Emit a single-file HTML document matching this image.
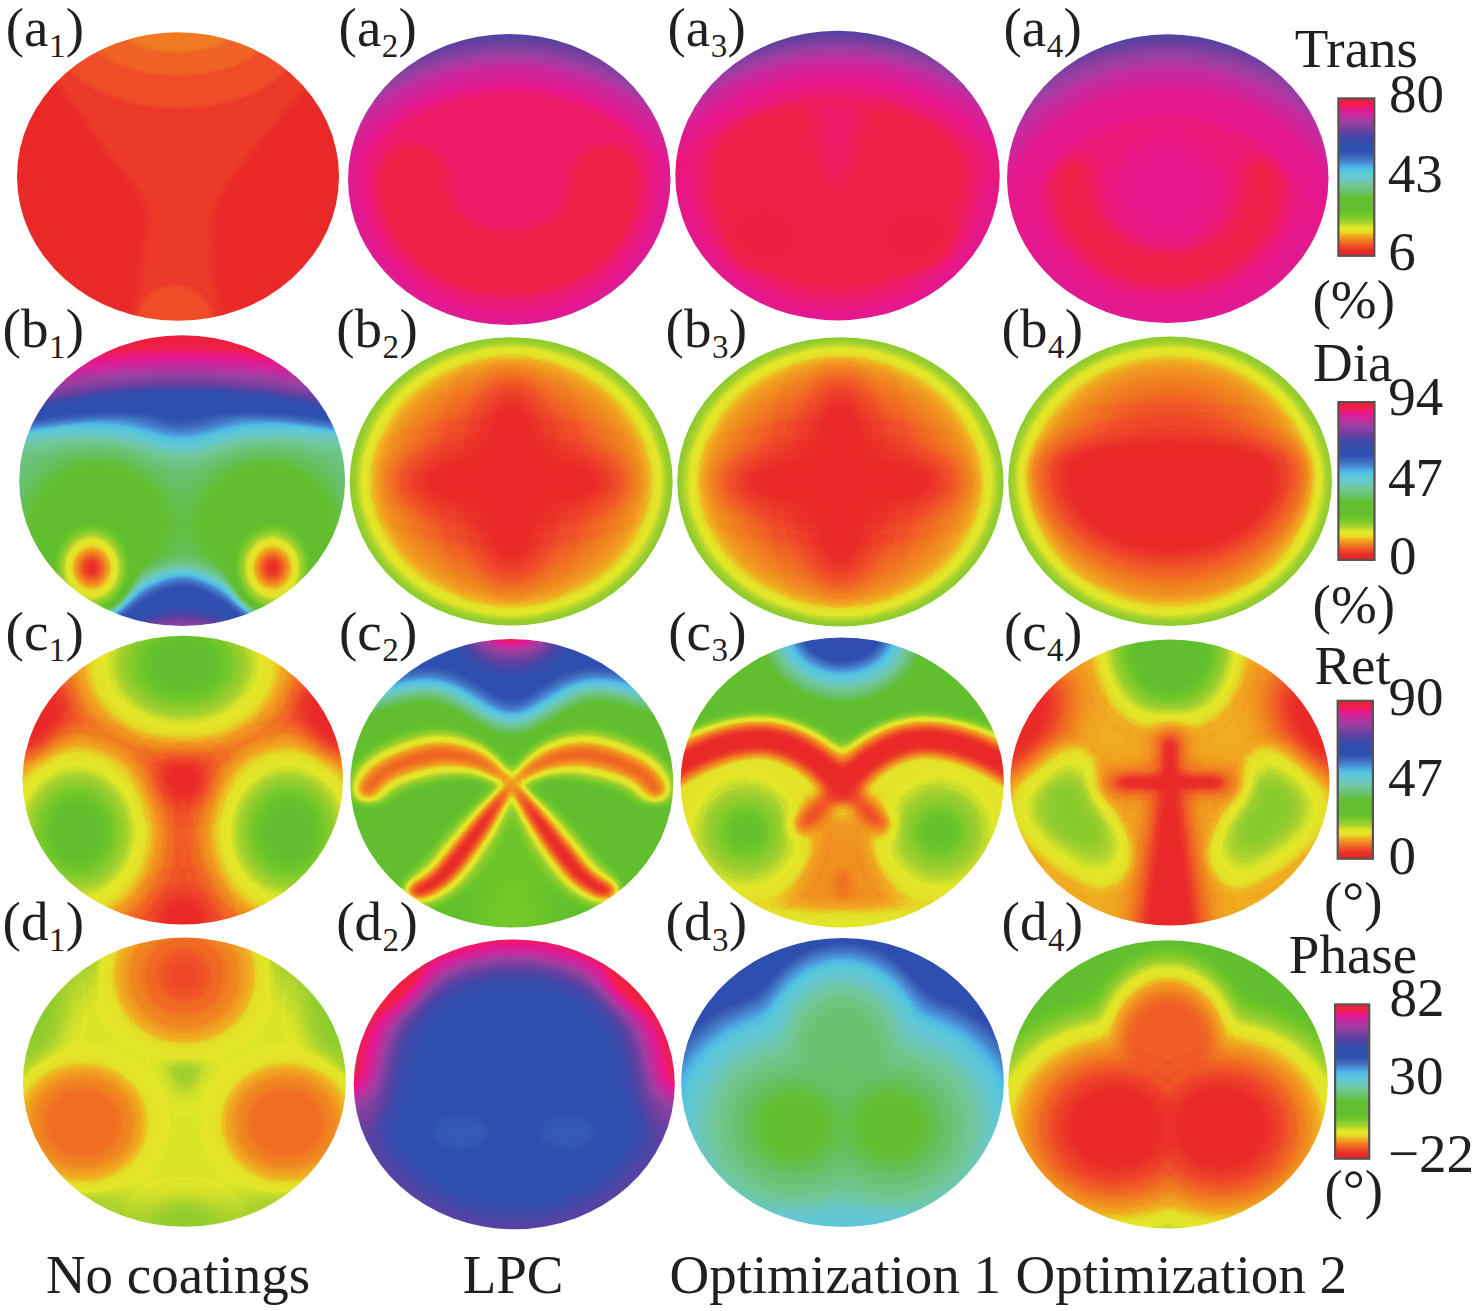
<!DOCTYPE html><html><head><meta charset="utf-8"><style>html,body{margin:0;padding:0;background:#fff;overflow:hidden}svg{display:block}text{font-family:"Liberation Serif",serif;fill:#231f20}</style></head><body>
<svg width="1476" height="1311" viewBox="0 0 1476 1311">
<defs>
<clipPath id="uc"><circle cx="0" cy="0" r="1"/></clipPath>
<filter id="cmap" filterUnits="userSpaceOnUse" x="-1.2" y="-1.2" width="2.4" height="2.4" color-interpolation-filters="sRGB"><feComponentTransfer><feFuncR type="table" tableValues="0.9098 0.9098 0.9120 0.9158 0.9216 0.9294 0.9373 0.9412 0.9412 0.9412 0.9412 0.9412 0.9412 0.9412 0.9189 0.8941 0.8941 0.8941 0.8941 0.8179 0.7417 0.6655 0.6056 0.5618 0.5180 0.4742 0.4353 0.4157 0.3961 0.3843 0.3843 0.3843 0.3843 0.3843 0.3843 0.3843 0.3843 0.3843 0.3922 0.4000 0.4078 0.4138 0.4197 0.4256 0.4315 0.4374 0.4345 0.4279 0.4212 0.4145 0.4078 0.3899 0.3720 0.3541 0.3388 0.3263 0.3137 0.3050 0.2963 0.2866 0.2747 0.2629 0.2510 0.2353 0.2196 0.2039 0.1882 0.1882 0.1882 0.1882 0.1882 0.2013 0.2144 0.2275 0.2405 0.2578 0.2922 0.3265 0.3608 0.3951 0.4304 0.4674 0.5043 0.5412 0.5781 0.6152 0.6527 0.6903 0.7278 0.7654 0.7998 0.8322 0.8645 0.8969 0.9170 0.9291 0.9412 0.9392 0.9373 0.9353 0.9333"/><feFuncG type="table" tableValues="0.1490 0.1546 0.1613 0.1688 0.1961 0.2431 0.2902 0.3422 0.3993 0.4563 0.5134 0.5704 0.6275 0.6845 0.7794 0.8784 0.8889 0.8993 0.9098 0.8829 0.8560 0.8291 0.8120 0.8047 0.7974 0.7902 0.7821 0.7709 0.7597 0.7529 0.7529 0.7529 0.7529 0.7529 0.7529 0.7529 0.7529 0.7529 0.7529 0.7529 0.7529 0.7589 0.7648 0.7707 0.7766 0.7825 0.7843 0.7843 0.7843 0.7843 0.7843 0.7843 0.7843 0.7843 0.7718 0.7467 0.7216 0.6635 0.6054 0.5533 0.5153 0.4772 0.4392 0.4078 0.3765 0.3451 0.3137 0.3137 0.3137 0.3137 0.3137 0.3072 0.3007 0.2941 0.2876 0.2810 0.2745 0.2680 0.2614 0.2549 0.2510 0.2510 0.2510 0.2510 0.2510 0.2455 0.2271 0.2088 0.1904 0.1720 0.1529 0.1333 0.1137 0.0941 0.0935 0.1056 0.1176 0.1186 0.1196 0.1206 0.1216"/><feFuncB type="table" tableValues="0.1569 0.1569 0.1569 0.1569 0.1569 0.1569 0.1569 0.1521 0.1426 0.1331 0.1255 0.1255 0.1255 0.1255 0.1404 0.1569 0.1569 0.1569 0.1569 0.1658 0.1748 0.1838 0.1846 0.1773 0.1700 0.1627 0.1591 0.1703 0.1815 0.1882 0.1882 0.1882 0.1882 0.1882 0.1882 0.1882 0.1882 0.1882 0.2510 0.3137 0.3765 0.4179 0.4593 0.5008 0.5422 0.5836 0.6288 0.6755 0.7222 0.7690 0.8157 0.8246 0.8336 0.8426 0.8596 0.8847 0.9098 0.8866 0.8633 0.8385 0.8100 0.7815 0.7529 0.7373 0.7216 0.7059 0.6902 0.6902 0.6902 0.6902 0.6902 0.6837 0.6771 0.6706 0.6641 0.6575 0.6510 0.6444 0.6379 0.6314 0.6281 0.6296 0.6311 0.6327 0.6342 0.6345 0.6320 0.6295 0.6270 0.6245 0.6124 0.5937 0.5751 0.5565 0.4875 0.3849 0.2824 0.2706 0.2588 0.2471 0.2353"/></feComponentTransfer></filter>
<filter id="bl_d2" filterUnits="userSpaceOnUse" x="-2" y="-2" width="4" height="4" color-interpolation-filters="sRGB"><feGaussianBlur stdDeviation="0.08"/></filter>
<filter id="bl0" filterUnits="userSpaceOnUse" x="-2" y="-2" width="4" height="4" color-interpolation-filters="sRGB"><feGaussianBlur stdDeviation="0.025"/></filter>
<filter id="bl1" filterUnits="userSpaceOnUse" x="-2" y="-2" width="4" height="4" color-interpolation-filters="sRGB"><feGaussianBlur stdDeviation="0.012"/></filter>
<filter id="bl2" filterUnits="userSpaceOnUse" x="-2" y="-2" width="4" height="4" color-interpolation-filters="sRGB"><feGaussianBlur stdDeviation="0.060"/></filter>
<filter id="bl3" filterUnits="userSpaceOnUse" x="-2" y="-2" width="4" height="4" color-interpolation-filters="sRGB"><feGaussianBlur stdDeviation="0.050"/></filter>
<filter id="bl4" filterUnits="userSpaceOnUse" x="-2" y="-2" width="4" height="4" color-interpolation-filters="sRGB"><feGaussianBlur stdDeviation="0.040"/></filter>
<filter id="bl5" filterUnits="userSpaceOnUse" x="-2" y="-2" width="4" height="4" color-interpolation-filters="sRGB"><feGaussianBlur stdDeviation="0.140"/></filter>
<filter id="bl6" filterUnits="userSpaceOnUse" x="-2" y="-2" width="4" height="4" color-interpolation-filters="sRGB"><feGaussianBlur stdDeviation="0.110"/></filter>
<filter id="bl7" filterUnits="userSpaceOnUse" x="-2" y="-2" width="4" height="4" color-interpolation-filters="sRGB"><feGaussianBlur stdDeviation="0.070"/></filter>
<filter id="bl8" filterUnits="userSpaceOnUse" x="-2" y="-2" width="4" height="4" color-interpolation-filters="sRGB"><feGaussianBlur stdDeviation="0.035"/></filter>
<filter id="bl9" filterUnits="userSpaceOnUse" x="-2" y="-2" width="4" height="4" color-interpolation-filters="sRGB"><feGaussianBlur stdDeviation="0.030"/></filter>
<filter id="bl10" filterUnits="userSpaceOnUse" x="-2" y="-2" width="4" height="4" color-interpolation-filters="sRGB"><feGaussianBlur stdDeviation="0.100"/></filter>
<filter id="bl11" filterUnits="userSpaceOnUse" x="-2" y="-2" width="4" height="4" color-interpolation-filters="sRGB"><feGaussianBlur stdDeviation="0.059"/></filter>
<filter id="bl12" filterUnits="userSpaceOnUse" x="-2" y="-2" width="4" height="4" color-interpolation-filters="sRGB"><feGaussianBlur stdDeviation="0.052"/></filter>
<filter id="bl13" filterUnits="userSpaceOnUse" x="-2" y="-2" width="4" height="4" color-interpolation-filters="sRGB"><feGaussianBlur stdDeviation="0.090"/></filter>
<filter id="bl14" filterUnits="userSpaceOnUse" x="-2" y="-2" width="4" height="4" color-interpolation-filters="sRGB"><feGaussianBlur stdDeviation="0.080"/></filter>
<filter id="bl15" filterUnits="userSpaceOnUse" x="-2" y="-2" width="4" height="4" color-interpolation-filters="sRGB"><feGaussianBlur stdDeviation="0.020"/></filter>
<filter id="bl16" filterUnits="userSpaceOnUse" x="-2" y="-2" width="4" height="4" color-interpolation-filters="sRGB"><feGaussianBlur stdDeviation="0.036"/></filter>
<filter id="bl17" filterUnits="userSpaceOnUse" x="-2" y="-2" width="4" height="4" color-interpolation-filters="sRGB"><feGaussianBlur stdDeviation="0.042"/></filter>
<filter id="bl18" filterUnits="userSpaceOnUse" x="-2" y="-2" width="4" height="4" color-interpolation-filters="sRGB"><feGaussianBlur stdDeviation="0.053"/></filter>
<filter id="bl19" filterUnits="userSpaceOnUse" x="-2" y="-2" width="4" height="4" color-interpolation-filters="sRGB"><feGaussianBlur stdDeviation="0.045"/></filter>
<radialGradient id="a2r" gradientUnits="userSpaceOnUse" cx="0" cy="0" r="1" fx="0" fy="0"><stop offset="0" stop-color="#f2f2f2"/><stop offset="0.75" stop-color="#f2f2f2"/><stop offset="0.88" stop-color="#f0f0f0"/><stop offset="0.95" stop-color="#ededed"/><stop offset="1" stop-color="#ebebeb"/></radialGradient>
<radialGradient id="a2t" gradientUnits="userSpaceOnUse" cx="0" cy="0.55" r="1.56" fx="0" fy="0.55"><stop offset="0" stop-color="#ededed" stop-opacity="0"/><stop offset="0.72" stop-color="#ededed" stop-opacity="0"/><stop offset="0.78" stop-color="#ececec" stop-opacity="1"/><stop offset="0.85" stop-color="#e4e4e4" stop-opacity="1"/><stop offset="0.92" stop-color="#d4d4d4" stop-opacity="1"/><stop offset="1" stop-color="#c2c2c2" stop-opacity="1"/></radialGradient>
<radialGradient id="a3r" gradientUnits="userSpaceOnUse" cx="0" cy="0" r="1" fx="0" fy="0"><stop offset="0" stop-color="#f7f7f7"/><stop offset="0.72" stop-color="#f6f6f6"/><stop offset="0.86" stop-color="#f1f1f1"/><stop offset="0.95" stop-color="#eeeeee"/><stop offset="1" stop-color="#ededed"/></radialGradient>
<radialGradient id="a3t" gradientUnits="userSpaceOnUse" cx="0" cy="0.6" r="1.6" fx="0" fy="0.6"><stop offset="0" stop-color="#f2f2f2" stop-opacity="0"/><stop offset="0.66" stop-color="#f2f2f2" stop-opacity="0"/><stop offset="0.74" stop-color="#f0f0f0" stop-opacity="1"/><stop offset="0.8" stop-color="#ededed" stop-opacity="1"/><stop offset="0.87" stop-color="#e4e4e4" stop-opacity="1"/><stop offset="0.94" stop-color="#d4d4d4" stop-opacity="1"/><stop offset="1" stop-color="#c4c4c4" stop-opacity="1"/></radialGradient>
<radialGradient id="a4r" gradientUnits="userSpaceOnUse" cx="0" cy="0" r="1" fx="0" fy="0"><stop offset="0" stop-color="#f1f1f1"/><stop offset="0.75" stop-color="#f0f0f0"/><stop offset="0.88" stop-color="#eeeeee"/><stop offset="1" stop-color="#ececec"/></radialGradient>
<radialGradient id="a4t" gradientUnits="userSpaceOnUse" cx="0" cy="0.5" r="1.52" fx="0" fy="0.5"><stop offset="0" stop-color="#f0f0f0" stop-opacity="0"/><stop offset="0.55" stop-color="#f0f0f0" stop-opacity="0"/><stop offset="0.63" stop-color="#eeeeee" stop-opacity="1"/><stop offset="0.72" stop-color="#ededed" stop-opacity="1"/><stop offset="0.82" stop-color="#e3e3e3" stop-opacity="1"/><stop offset="0.91" stop-color="#d4d4d4" stop-opacity="1"/><stop offset="1" stop-color="#bfbfbf" stop-opacity="1"/></radialGradient>
<radialGradient id="b1t" gradientUnits="userSpaceOnUse" cx="0" cy="3" r="4.3" fx="0" fy="3"><stop offset="0" stop-color="#b0b0b0" stop-opacity="0"/><stop offset="0.8" stop-color="#b0b0b0" stop-opacity="0"/><stop offset="0.835" stop-color="#b0b0b0" stop-opacity="1"/><stop offset="0.853" stop-color="#cccccc" stop-opacity="1"/><stop offset="0.895" stop-color="#ededed" stop-opacity="1"/><stop offset="0.912" stop-color="#f5f5f5" stop-opacity="1"/><stop offset="0.93" stop-color="#ffffff" stop-opacity="1"/><stop offset="1" stop-color="#ffffff" stop-opacity="1"/></radialGradient>
<radialGradient id="b2r" gradientUnits="userSpaceOnUse" cx="0" cy="0" r="1" fx="0" fy="0"><stop offset="0" stop-color="#050505"/><stop offset="0.2" stop-color="#080808"/><stop offset="0.3" stop-color="#0a0a0a"/><stop offset="0.42" stop-color="#0f0f0f"/><stop offset="0.52" stop-color="#121212"/><stop offset="0.62" stop-color="#161616"/><stop offset="0.72" stop-color="#1a1a1a"/><stop offset="0.8" stop-color="#1e1e1e"/><stop offset="0.86" stop-color="#242424"/><stop offset="0.9" stop-color="#2b2b2b"/><stop offset="0.94" stop-color="#333333"/><stop offset="0.97" stop-color="#383838"/><stop offset="1" stop-color="#3c3c3c"/></radialGradient>
<radialGradient id="b3r" gradientUnits="userSpaceOnUse" cx="0" cy="0" r="1" fx="0" fy="0"><stop offset="0" stop-color="#050505"/><stop offset="0.2" stop-color="#080808"/><stop offset="0.3" stop-color="#0a0a0a"/><stop offset="0.42" stop-color="#0f0f0f"/><stop offset="0.52" stop-color="#121212"/><stop offset="0.62" stop-color="#161616"/><stop offset="0.72" stop-color="#1a1a1a"/><stop offset="0.8" stop-color="#1e1e1e"/><stop offset="0.86" stop-color="#242424"/><stop offset="0.9" stop-color="#2b2b2b"/><stop offset="0.94" stop-color="#333333"/><stop offset="0.97" stop-color="#383838"/><stop offset="1" stop-color="#3c3c3c"/></radialGradient>
<radialGradient id="b4r" gradientUnits="userSpaceOnUse" cx="0" cy="0" r="1" fx="0" fy="0"><stop offset="0" stop-color="#050505"/><stop offset="0.2" stop-color="#080808"/><stop offset="0.3" stop-color="#0a0a0a"/><stop offset="0.42" stop-color="#0f0f0f"/><stop offset="0.52" stop-color="#121212"/><stop offset="0.62" stop-color="#161616"/><stop offset="0.72" stop-color="#1a1a1a"/><stop offset="0.8" stop-color="#1e1e1e"/><stop offset="0.86" stop-color="#242424"/><stop offset="0.9" stop-color="#2b2b2b"/><stop offset="0.94" stop-color="#333333"/><stop offset="0.97" stop-color="#383838"/><stop offset="1" stop-color="#3c3c3c"/></radialGradient>
<radialGradient id="d1r" gradientUnits="userSpaceOnUse" cx="0" cy="0" r="1" fx="0" fy="0"><stop offset="0" stop-color="#2f2f2f"/><stop offset="0.75" stop-color="#2f2f2f"/><stop offset="1" stop-color="#363636"/></radialGradient>
<linearGradient id="cbar" x1="0" y1="0" x2="0" y2="1"><stop offset="0.000" stop-color="#ee1f3c"/><stop offset="0.040" stop-color="#f01e48"/><stop offset="0.066" stop-color="#e8168c"/><stop offset="0.106" stop-color="#c72a9f"/><stop offset="0.153" stop-color="#9a40a2"/><stop offset="0.204" stop-color="#6a40a0"/><stop offset="0.252" stop-color="#4048a8"/><stop offset="0.300" stop-color="#3050b0"/><stop offset="0.340" stop-color="#3050b0"/><stop offset="0.380" stop-color="#4070c0"/><stop offset="0.413" stop-color="#4a90d8"/><stop offset="0.440" stop-color="#50b8e8"/><stop offset="0.465" stop-color="#58c8d8"/><stop offset="0.500" stop-color="#68c8d0"/><stop offset="0.547" stop-color="#70c898"/><stop offset="0.600" stop-color="#68c060"/><stop offset="0.630" stop-color="#62c030"/><stop offset="0.714" stop-color="#62c030"/><stop offset="0.742" stop-color="#70c828"/><stop offset="0.785" stop-color="#a0d030"/><stop offset="0.820" stop-color="#e4e828"/><stop offset="0.850" stop-color="#e4e028"/><stop offset="0.869" stop-color="#f0b020"/><stop offset="0.902" stop-color="#f08020"/><stop offset="0.935" stop-color="#f05028"/><stop offset="0.965" stop-color="#ea2c28"/><stop offset="0.986" stop-color="#e82828"/><stop offset="1.000" stop-color="#e82628"/></linearGradient>
</defs>
<g transform="translate(178.00 176.50) scale(161.000 144.200)"><g clip-path="url(#uc)"><g filter="url(#cmap)"><rect x="-1.3" y="-1.3" width="2.6" height="2.6" fill="#060606"/><path d="M -1.300,-1.300 C -1.062,-1.382 1.055,-1.382 1.300,-1.300 C 1.545,-1.218 0.893,-0.728 0.800,-0.600 C 0.707,-0.472 0.564,-0.293 0.500,-0.200 C 0.436,-0.107 0.281,0.107 0.250,0.200 C 0.218,0.293 0.228,0.472 0.230,0.600 C 0.232,0.728 0.331,1.218 0.270,1.300 C 0.209,1.382 -0.230,1.382 -0.290,1.300 C -0.349,1.218 -0.248,0.728 -0.240,0.600 C -0.232,0.472 -0.193,0.291 -0.220,0.200 C -0.247,0.109 -0.409,-0.087 -0.470,-0.180 C -0.531,-0.273 -0.643,-0.469 -0.740,-0.600 C -0.837,-0.731 -1.538,-1.218 -1.300,-1.300 Z" fill="#0c0c0c" filter="url(#bl0)"/><ellipse cx="0" cy="-1" rx="0.78" ry="0.53" fill="#101010" filter="url(#bl1)"/><ellipse cx="0" cy="-1" rx="0.56" ry="0.3" fill="#141414" filter="url(#bl1)"/><ellipse cx="0" cy="-1" rx="0.33" ry="0.14" fill="#181818" filter="url(#bl1)"/><ellipse cx="-0.02" cy="1.02" rx="0.24" ry="0.27" fill="#101010" filter="url(#bl1)"/></g></g></g>
<g transform="translate(509.25 179.50) scale(161.250 145.500)"><g clip-path="url(#uc)"><g filter="url(#cmap)"><rect x="-1.3" y="-1.3" width="2.6" height="2.6" fill="url(#a2r)"/><path d="M -0.6,-0.02 C -0.62,0.3 -0.4,0.58 0,0.58 C 0.4,0.58 0.62,0.3 0.6,-0.02" fill="none" stroke="#f9f9f9" stroke-width="0.36" stroke-linecap="round" stroke-linejoin="round" filter="url(#bl2)"/><rect x="-1.3" y="-1.3" width="2.6" height="2.6" fill="url(#a2t)"/></g></g></g>
<g transform="translate(837.50 175.60) scale(162.200 144.800)"><g clip-path="url(#uc)"><g filter="url(#cmap)"><rect x="-1.3" y="-1.3" width="2.6" height="2.6" fill="url(#a3r)"/><path d="M -0.2,-0.55 C -0.14,-0.2 -0.1,0.08 0,0.1 C 0.1,0.08 0.14,-0.2 0.2,-0.55 Z" fill="#f2f2f2" filter="url(#bl3)"/><ellipse cx="-0.46" cy="0.42" rx="0.2" ry="0.18" fill="#fcfcfc" transform="rotate(40 -0.46 0.42)" filter="url(#bl2)"/><ellipse cx="0.48" cy="0.42" rx="0.2" ry="0.18" fill="#fcfcfc" transform="rotate(-40 0.48 0.42)" filter="url(#bl2)"/><rect x="-1.3" y="-1.3" width="2.6" height="2.6" fill="url(#a3t)"/></g></g></g>
<g transform="translate(1167.75 178.60) scale(160.750 144.300)"><g clip-path="url(#uc)"><g filter="url(#cmap)"><rect x="-1.3" y="-1.3" width="2.6" height="2.6" fill="url(#a4r)"/><path d="M -0.6,-0.05 C -0.62,0.25 -0.45,0.62 0,0.62 C 0.45,0.62 0.62,0.25 0.6,-0.05" fill="none" stroke="#f5f5f5" stroke-width="0.26" stroke-linecap="round" stroke-linejoin="round" filter="url(#bl2)"/><ellipse cx="0" cy="0.07" rx="0.33" ry="0.38" fill="#eeeeee" filter="url(#bl4)"/><rect x="-1.3" y="-1.3" width="2.6" height="2.6" fill="url(#a4t)"/></g></g></g>
<g transform="translate(182.15 480.65) scale(162.950 145.350)"><g clip-path="url(#uc)"><g filter="url(#cmap)"><rect x="-1.3" y="-1.3" width="2.6" height="2.6" fill="#707070"/><ellipse cx="-0.52" cy="0.3" rx="0.46" ry="0.46" fill="#545454" filter="url(#bl5)"/><ellipse cx="0.52" cy="0.3" rx="0.46" ry="0.46" fill="#545454" filter="url(#bl5)"/><path d="M -1.3,-1.3 L 1.3,-1.3 L 1.3,-0.36 C 0.9,-0.38 0.5,-0.42 0.3,-0.37 C 0.15,-0.33 0.07,-0.27 0,-0.27 C -0.07,-0.27 -0.15,-0.33 -0.3,-0.37 C -0.5,-0.42 -0.9,-0.38 -1.3,-0.36 Z" fill="#b0b0b0" filter="url(#bl6)"/><rect x="-1.3" y="-1.3" width="2.6" height="2.6" fill="url(#b1t)"/><path d="M -0.72,1.3 L -0.5,0.95 C -0.3,0.76 -0.14,0.64 0,0.64 C 0.14,0.64 0.3,0.76 0.5,0.95 L 0.72,1.3 Z" fill="#b0b0b0" filter="url(#bl7)"/><ellipse cx="0" cy="1.06" rx="0.3" ry="0.14" fill="#d6d6d6" filter="url(#bl3)"/><ellipse cx="-0.555" cy="0.6" rx="0.25" ry="0.32" fill="#454545" filter="url(#bl4)"/><ellipse cx="-0.555" cy="0.6" rx="0.2" ry="0.26" fill="#393939" filter="url(#bl8)"/><ellipse cx="-0.555" cy="0.6" rx="0.165" ry="0.215" fill="#2f2f2f" filter="url(#bl9)"/><ellipse cx="-0.555" cy="0.6" rx="0.13" ry="0.17" fill="#242424" filter="url(#bl9)"/><ellipse cx="-0.555" cy="0.6" rx="0.09" ry="0.12" fill="#161616" filter="url(#bl9)"/><ellipse cx="-0.555" cy="0.6" rx="0.05" ry="0.07" fill="#080808" filter="url(#bl0)"/><ellipse cx="0.555" cy="0.6" rx="0.25" ry="0.32" fill="#454545" filter="url(#bl4)"/><ellipse cx="0.555" cy="0.6" rx="0.2" ry="0.26" fill="#393939" filter="url(#bl8)"/><ellipse cx="0.555" cy="0.6" rx="0.165" ry="0.215" fill="#2f2f2f" filter="url(#bl9)"/><ellipse cx="0.555" cy="0.6" rx="0.13" ry="0.17" fill="#242424" filter="url(#bl9)"/><ellipse cx="0.555" cy="0.6" rx="0.09" ry="0.12" fill="#161616" filter="url(#bl9)"/><ellipse cx="0.555" cy="0.6" rx="0.05" ry="0.07" fill="#080808" filter="url(#bl0)"/></g></g></g>
<g transform="translate(511.20 481.40) scale(161.500 144.200)"><g clip-path="url(#uc)"><g filter="url(#cmap)"><rect x="-1.3" y="-1.3" width="2.6" height="2.6" fill="url(#b2r)"/><ellipse cx="0" cy="0" rx="0.22" ry="0.74" fill="#0d0d0d" filter="url(#bl10)"/><ellipse cx="0" cy="0" rx="0.74" ry="0.22" fill="#0d0d0d" filter="url(#bl10)"/><ellipse cx="0" cy="0" rx="0.14" ry="0.55" fill="#030303" filter="url(#bl7)"/><ellipse cx="0" cy="0" rx="0.55" ry="0.14" fill="#030303" filter="url(#bl7)"/></g></g></g>
<g transform="translate(840.40 481.90) scale(163.200 144.600)"><g clip-path="url(#uc)"><g filter="url(#cmap)"><rect x="-1.3" y="-1.3" width="2.6" height="2.6" fill="url(#b3r)"/><ellipse cx="0" cy="0" rx="0.21" ry="0.76" fill="#0d0d0d" filter="url(#bl10)"/><ellipse cx="0" cy="0" rx="0.76" ry="0.21" fill="#0d0d0d" filter="url(#bl10)"/><ellipse cx="0" cy="0" rx="0.13" ry="0.57" fill="#030303" filter="url(#bl7)"/><ellipse cx="0" cy="0" rx="0.57" ry="0.13" fill="#030303" filter="url(#bl7)"/></g></g></g>
<g transform="translate(1170.10 481.35) scale(161.900 144.750)"><g clip-path="url(#uc)"><g filter="url(#cmap)"><rect x="-1.3" y="-1.3" width="2.6" height="2.6" fill="url(#b4r)"/><g transform="translate(0 0.05) scale(1.35) translate(0 -0.05)"><path d="M -0.62,-0.06 C -0.62,-0.32 0.62,-0.32 0.62,-0.06 C 0.62,0.2 0.36,0.46 0,0.46 C -0.36,0.46 -0.62,0.2 -0.62,-0.06 Z" fill="#121212" filter="url(#bl11)"/></g><g transform="translate(0 0.05) scale(1.15) translate(0 -0.05)"><path d="M -0.62,-0.06 C -0.62,-0.32 0.62,-0.32 0.62,-0.06 C 0.62,0.2 0.36,0.46 0,0.46 C -0.36,0.46 -0.62,0.2 -0.62,-0.06 Z" fill="#0b0b0b" filter="url(#bl12)"/></g><g transform="translate(0 0.05) scale(1) translate(0 -0.05)"><path d="M -0.62,-0.06 C -0.62,-0.32 0.62,-0.32 0.62,-0.06 C 0.62,0.2 0.36,0.46 0,0.46 C -0.36,0.46 -0.62,0.2 -0.62,-0.06 Z" fill="#030303" filter="url(#bl3)"/></g></g></g></g>
<g transform="translate(182.80 780.10) scale(160.200 144.300)"><g clip-path="url(#uc)"><g filter="url(#cmap)"><rect x="-1.3" y="-1.3" width="2.6" height="2.6" fill="#131313"/><ellipse cx="0" cy="-0.8" rx="0.76" ry="0.66" fill="#1a1a1a" filter="url(#bl2)"/><ellipse cx="-0.66" cy="0.36" rx="0.58" ry="0.74" fill="#1a1a1a" filter="url(#bl2)"/><ellipse cx="0.66" cy="0.36" rx="0.58" ry="0.74" fill="#1a1a1a" filter="url(#bl2)"/><ellipse cx="0" cy="-0.8" rx="0.6688" ry="0.5808" fill="#212121" filter="url(#bl2)"/><ellipse cx="-0.66" cy="0.36" rx="0.5104" ry="0.6512" fill="#212121" filter="url(#bl2)"/><ellipse cx="0.66" cy="0.36" rx="0.5104" ry="0.6512" fill="#212121" filter="url(#bl2)"/><ellipse cx="0" cy="-0.8" rx="0.5776" ry="0.5016" fill="#2a2a2a" filter="url(#bl2)"/><ellipse cx="-0.66" cy="0.36" rx="0.4408" ry="0.5624" fill="#2a2a2a" filter="url(#bl2)"/><ellipse cx="0.66" cy="0.36" rx="0.4408" ry="0.5624" fill="#2a2a2a" filter="url(#bl2)"/><ellipse cx="0" cy="-0.8" rx="0.4864" ry="0.4224" fill="#333333" filter="url(#bl2)"/><ellipse cx="-0.66" cy="0.36" rx="0.3712" ry="0.4736" fill="#333333" filter="url(#bl2)"/><ellipse cx="0.66" cy="0.36" rx="0.3712" ry="0.4736" fill="#333333" filter="url(#bl2)"/><ellipse cx="0" cy="-0.8" rx="0.3952" ry="0.3432" fill="#3c3c3c" filter="url(#bl2)"/><ellipse cx="-0.66" cy="0.36" rx="0.3016" ry="0.3848" fill="#3c3c3c" filter="url(#bl2)"/><ellipse cx="0.66" cy="0.36" rx="0.3016" ry="0.3848" fill="#3c3c3c" filter="url(#bl2)"/><ellipse cx="0" cy="-0.8" rx="0.304" ry="0.264" fill="#454545" filter="url(#bl2)"/><ellipse cx="-0.66" cy="0.36" rx="0.232" ry="0.296" fill="#454545" filter="url(#bl2)"/><ellipse cx="0.66" cy="0.36" rx="0.232" ry="0.296" fill="#454545" filter="url(#bl2)"/><ellipse cx="0" cy="-0.8" rx="0.2128" ry="0.1848" fill="#4c4c4c" filter="url(#bl2)"/><ellipse cx="-0.66" cy="0.36" rx="0.1624" ry="0.2072" fill="#4c4c4c" filter="url(#bl2)"/><ellipse cx="0.66" cy="0.36" rx="0.1624" ry="0.2072" fill="#4c4c4c" filter="url(#bl2)"/><ellipse cx="0" cy="-0.8" rx="0.1216" ry="0.1056" fill="#545454" filter="url(#bl2)"/><ellipse cx="-0.66" cy="0.36" rx="0.0928" ry="0.1184" fill="#545454" filter="url(#bl2)"/><ellipse cx="0.66" cy="0.36" rx="0.0928" ry="0.1184" fill="#545454" filter="url(#bl2)"/><ellipse cx="0" cy="0" rx="0.12" ry="0.14" fill="#000000" filter="url(#bl13)"/><ellipse cx="0" cy="1" rx="0.13" ry="0.2" fill="#000000" filter="url(#bl13)"/><ellipse cx="-0.92" cy="-0.42" rx="0.12" ry="0.26" fill="#000000" transform="rotate(30 -0.92 -0.42)" filter="url(#bl13)"/><ellipse cx="0.92" cy="-0.42" rx="0.12" ry="0.26" fill="#000000" transform="rotate(-30 0.92 -0.42)" filter="url(#bl13)"/></g></g></g>
<g transform="translate(511.80 783.20) scale(161.500 144.300)"><g clip-path="url(#uc)"><g filter="url(#cmap)"><rect x="-1.3" y="-1.3" width="2.6" height="2.6" fill="#545454"/><path d="M 0,0.05 L -0.42,1.2 L 0.42,1.2 Z" fill="#404040" filter="url(#bl5)"/><path d="M -1.3,-1.3 L 1.3,-1.3 L 1.3,-0.42 C 0.9,-0.58 0.6,-0.72 0.45,-0.68 C 0.3,-0.64 0.15,-0.45 0,-0.4 C -0.15,-0.45 -0.3,-0.64 -0.45,-0.68 C -0.6,-0.72 -0.9,-0.58 -1.3,-0.42 Z" fill="#b0b0b0" filter="url(#bl10)"/><ellipse cx="0" cy="-1.02" rx="0.3" ry="0.22" fill="#d6d6d6" filter="url(#bl7)"/><ellipse cx="0" cy="-1.04" rx="0.18" ry="0.09" fill="#f7f7f7" filter="url(#bl4)"/><path d="M 0.000,0.000 C 0.019,-0.039 -0.075,-0.203 -0.144,-0.268 C -0.213,-0.333 -0.326,-0.377 -0.416,-0.388 C -0.505,-0.400 -0.600,-0.368 -0.681,-0.338 C -0.762,-0.308 -0.849,-0.258 -0.904,-0.209 C -0.959,-0.160 -1.000,-0.101 -1.011,-0.043 C -1.023,0.015 -1.011,0.108 -0.974,0.139 C -0.937,0.170 -0.835,0.154 -0.789,0.143 C -0.742,0.131 -0.734,0.090 -0.696,0.069 C -0.657,0.048 -0.604,0.032 -0.559,0.018 C -0.514,0.005 -0.475,-0.003 -0.424,-0.012 C -0.374,-0.020 -0.327,-0.034 -0.256,-0.032 C -0.185,-0.030 -0.019,0.039 0.000,0.000 Z" fill="#3c3c3c" filter="url(#bl2)"/><path d="M 0.000,0.000 C 0.019,0.039 0.185,-0.030 0.256,-0.032 C 0.327,-0.034 0.374,-0.020 0.424,-0.012 C 0.475,-0.003 0.514,0.005 0.559,0.018 C 0.604,0.032 0.657,0.048 0.696,0.069 C 0.734,0.090 0.742,0.131 0.789,0.143 C 0.835,0.154 0.937,0.170 0.974,0.139 C 1.011,0.108 1.023,0.015 1.011,-0.043 C 1.000,-0.101 0.959,-0.160 0.904,-0.209 C 0.849,-0.258 0.762,-0.308 0.681,-0.338 C 0.600,-0.368 0.505,-0.400 0.416,-0.388 C 0.326,-0.377 0.213,-0.333 0.144,-0.268 C 0.075,-0.203 -0.019,-0.039 0.000,0.000 Z" fill="#3c3c3c" filter="url(#bl2)"/><path d="M 0.000,0.000 C -0.033,-0.021 -0.167,0.097 -0.238,0.157 C -0.308,0.217 -0.371,0.299 -0.422,0.360 C -0.472,0.421 -0.508,0.484 -0.539,0.524 C -0.571,0.564 -0.593,0.579 -0.610,0.599 C -0.628,0.619 -0.633,0.612 -0.646,0.643 C -0.658,0.675 -0.701,0.751 -0.685,0.787 C -0.670,0.822 -0.594,0.848 -0.554,0.857 C -0.515,0.866 -0.492,0.861 -0.450,0.841 C -0.407,0.821 -0.349,0.786 -0.301,0.736 C -0.252,0.686 -0.201,0.615 -0.158,0.540 C -0.115,0.464 -0.069,0.373 -0.042,0.283 C -0.016,0.193 0.033,0.021 0.000,0.000 Z" fill="#3c3c3c" filter="url(#bl2)"/><path d="M 0.000,0.000 C -0.033,0.021 0.016,0.193 0.042,0.283 C 0.069,0.373 0.115,0.464 0.158,0.540 C 0.201,0.615 0.252,0.686 0.301,0.736 C 0.349,0.786 0.407,0.821 0.450,0.841 C 0.492,0.861 0.515,0.866 0.554,0.857 C 0.594,0.848 0.670,0.822 0.685,0.787 C 0.701,0.751 0.658,0.675 0.646,0.643 C 0.633,0.612 0.628,0.619 0.610,0.599 C 0.593,0.579 0.571,0.564 0.539,0.524 C 0.508,0.484 0.472,0.421 0.422,0.360 C 0.371,0.299 0.308,0.217 0.238,0.157 C 0.167,0.097 0.033,-0.021 0.000,0.000 Z" fill="#3c3c3c" filter="url(#bl2)"/><path d="M 0.000,0.000 C 0.014,-0.030 -0.087,-0.183 -0.157,-0.241 C -0.226,-0.299 -0.331,-0.336 -0.417,-0.346 C -0.502,-0.355 -0.590,-0.326 -0.667,-0.298 C -0.744,-0.270 -0.827,-0.224 -0.881,-0.178 C -0.934,-0.132 -0.973,-0.071 -0.986,-0.022 C -0.999,0.028 -0.986,0.095 -0.957,0.119 C -0.929,0.143 -0.854,0.135 -0.814,0.122 C -0.774,0.108 -0.760,0.062 -0.719,0.038 C -0.679,0.014 -0.622,-0.007 -0.573,-0.022 C -0.524,-0.038 -0.478,-0.048 -0.423,-0.054 C -0.369,-0.061 -0.314,-0.068 -0.243,-0.059 C -0.173,-0.050 -0.014,0.030 0.000,0.000 Z" fill="#333333" filter="url(#bl4)"/><path d="M 0.000,0.000 C 0.014,0.030 0.173,-0.050 0.243,-0.059 C 0.314,-0.068 0.369,-0.061 0.423,-0.054 C 0.478,-0.048 0.524,-0.038 0.573,-0.022 C 0.622,-0.007 0.679,0.014 0.719,0.038 C 0.760,0.062 0.774,0.108 0.814,0.122 C 0.854,0.135 0.929,0.143 0.957,0.119 C 0.986,0.095 0.999,0.028 0.986,-0.022 C 0.973,-0.071 0.934,-0.132 0.881,-0.178 C 0.827,-0.224 0.744,-0.270 0.667,-0.298 C 0.590,-0.326 0.502,-0.355 0.417,-0.346 C 0.331,-0.336 0.226,-0.299 0.157,-0.241 C 0.087,-0.183 -0.014,-0.030 0.000,0.000 Z" fill="#333333" filter="url(#bl4)"/><path d="M 0.000,0.000 C -0.025,-0.016 -0.150,0.108 -0.215,0.171 C -0.281,0.235 -0.342,0.318 -0.392,0.381 C -0.441,0.443 -0.479,0.507 -0.512,0.548 C -0.545,0.589 -0.572,0.607 -0.592,0.627 C -0.613,0.647 -0.623,0.642 -0.635,0.668 C -0.648,0.693 -0.678,0.751 -0.666,0.778 C -0.654,0.806 -0.598,0.827 -0.565,0.832 C -0.532,0.838 -0.507,0.833 -0.468,0.813 C -0.428,0.793 -0.375,0.761 -0.328,0.712 C -0.281,0.663 -0.232,0.593 -0.188,0.519 C -0.144,0.446 -0.096,0.355 -0.065,0.269 C -0.033,0.182 0.025,0.016 0.000,0.000 Z" fill="#333333" filter="url(#bl4)"/><path d="M 0.000,0.000 C -0.025,0.016 0.033,0.182 0.065,0.269 C 0.096,0.355 0.144,0.446 0.188,0.519 C 0.232,0.593 0.281,0.663 0.328,0.712 C 0.375,0.761 0.428,0.793 0.468,0.813 C 0.507,0.833 0.532,0.838 0.565,0.832 C 0.598,0.827 0.654,0.806 0.666,0.778 C 0.678,0.751 0.648,0.693 0.635,0.668 C 0.623,0.642 0.613,0.647 0.592,0.627 C 0.572,0.607 0.545,0.589 0.512,0.548 C 0.479,0.507 0.441,0.443 0.392,0.381 C 0.342,0.318 0.281,0.235 0.215,0.171 C 0.150,0.108 0.025,-0.016 0.000,0.000 Z" fill="#333333" filter="url(#bl4)"/><path d="M 0.000,0.000 C 0.011,-0.022 -0.099,-0.166 -0.168,-0.217 C -0.238,-0.268 -0.336,-0.299 -0.417,-0.307 C -0.499,-0.314 -0.581,-0.287 -0.655,-0.261 C -0.728,-0.235 -0.808,-0.192 -0.859,-0.149 C -0.910,-0.106 -0.949,-0.044 -0.963,-0.002 C -0.977,0.039 -0.963,0.083 -0.942,0.100 C -0.921,0.118 -0.871,0.118 -0.837,0.102 C -0.803,0.087 -0.783,0.036 -0.741,0.009 C -0.699,-0.018 -0.639,-0.042 -0.585,-0.059 C -0.532,-0.076 -0.481,-0.089 -0.423,-0.093 C -0.364,-0.097 -0.302,-0.099 -0.232,-0.083 C -0.161,-0.068 -0.011,0.022 0.000,0.000 Z" fill="#262626" filter="url(#bl9)"/><path d="M 0.000,0.000 C 0.011,0.022 0.161,-0.068 0.232,-0.083 C 0.302,-0.099 0.364,-0.097 0.423,-0.093 C 0.481,-0.089 0.532,-0.076 0.585,-0.059 C 0.639,-0.042 0.699,-0.018 0.741,0.009 C 0.783,0.036 0.803,0.087 0.837,0.102 C 0.871,0.118 0.921,0.118 0.942,0.100 C 0.963,0.083 0.977,0.039 0.963,-0.002 C 0.949,-0.044 0.910,-0.106 0.859,-0.149 C 0.808,-0.192 0.728,-0.235 0.655,-0.261 C 0.581,-0.287 0.499,-0.314 0.417,-0.307 C 0.336,-0.299 0.238,-0.268 0.168,-0.217 C 0.099,-0.166 -0.011,-0.022 0.000,0.000 Z" fill="#262626" filter="url(#bl9)"/><path d="M 0.000,0.000 C -0.018,-0.012 -0.134,0.118 -0.195,0.184 C -0.256,0.251 -0.316,0.335 -0.364,0.399 C -0.413,0.463 -0.452,0.528 -0.487,0.570 C -0.523,0.612 -0.552,0.632 -0.575,0.652 C -0.599,0.672 -0.614,0.670 -0.626,0.690 C -0.638,0.710 -0.657,0.751 -0.648,0.771 C -0.640,0.791 -0.601,0.807 -0.574,0.810 C -0.547,0.813 -0.521,0.808 -0.485,0.788 C -0.448,0.768 -0.397,0.738 -0.353,0.690 C -0.308,0.642 -0.260,0.573 -0.216,0.501 C -0.171,0.428 -0.121,0.339 -0.085,0.256 C -0.049,0.172 0.018,0.012 0.000,0.000 Z" fill="#262626" filter="url(#bl9)"/><path d="M 0.000,0.000 C -0.018,0.012 0.049,0.172 0.085,0.256 C 0.121,0.339 0.171,0.428 0.216,0.501 C 0.260,0.573 0.308,0.642 0.353,0.690 C 0.397,0.738 0.448,0.768 0.485,0.788 C 0.521,0.808 0.547,0.813 0.574,0.810 C 0.601,0.807 0.640,0.791 0.648,0.771 C 0.657,0.751 0.638,0.710 0.626,0.690 C 0.614,0.670 0.599,0.672 0.575,0.652 C 0.552,0.632 0.523,0.612 0.487,0.570 C 0.452,0.528 0.413,0.463 0.364,0.399 C 0.316,0.335 0.256,0.251 0.195,0.184 C 0.134,0.118 0.018,-0.012 0.000,0.000 Z" fill="#262626" filter="url(#bl9)"/><path d="M 0.000,0.000 C 0.006,-0.012 -0.113,-0.143 -0.183,-0.187 C -0.252,-0.230 -0.343,-0.254 -0.419,-0.258 C -0.495,-0.263 -0.570,-0.240 -0.639,-0.215 C -0.708,-0.191 -0.783,-0.153 -0.832,-0.113 C -0.882,-0.074 -0.919,-0.011 -0.935,0.021 C -0.950,0.053 -0.935,0.068 -0.923,0.078 C -0.912,0.087 -0.891,0.096 -0.865,0.079 C -0.840,0.061 -0.812,0.004 -0.768,-0.027 C -0.724,-0.057 -0.659,-0.086 -0.601,-0.105 C -0.543,-0.124 -0.485,-0.140 -0.421,-0.142 C -0.357,-0.143 -0.288,-0.137 -0.217,-0.113 C -0.147,-0.090 -0.006,0.012 0.000,0.000 Z" fill="#141414" filter="url(#bl9)"/><path d="M 0.000,0.000 C 0.006,0.012 0.147,-0.090 0.217,-0.113 C 0.288,-0.137 0.357,-0.143 0.421,-0.142 C 0.485,-0.140 0.543,-0.124 0.601,-0.105 C 0.659,-0.086 0.724,-0.057 0.768,-0.027 C 0.812,0.004 0.840,0.061 0.865,0.079 C 0.891,0.096 0.912,0.087 0.923,0.078 C 0.935,0.068 0.950,0.053 0.935,0.021 C 0.919,-0.011 0.882,-0.074 0.832,-0.113 C 0.783,-0.153 0.708,-0.191 0.639,-0.215 C 0.570,-0.240 0.495,-0.263 0.419,-0.258 C 0.343,-0.254 0.252,-0.230 0.183,-0.187 C 0.113,-0.143 -0.006,-0.012 0.000,0.000 Z" fill="#141414" filter="url(#bl9)"/><path d="M 0.000,0.000 C -0.010,-0.007 -0.115,0.130 -0.170,0.200 C -0.225,0.271 -0.283,0.356 -0.331,0.422 C -0.379,0.488 -0.420,0.554 -0.457,0.597 C -0.494,0.641 -0.529,0.663 -0.555,0.683 C -0.581,0.703 -0.602,0.704 -0.614,0.717 C -0.626,0.730 -0.631,0.750 -0.626,0.761 C -0.622,0.772 -0.606,0.784 -0.586,0.783 C -0.566,0.782 -0.539,0.777 -0.505,0.757 C -0.471,0.737 -0.426,0.709 -0.383,0.663 C -0.340,0.616 -0.295,0.548 -0.249,0.478 C -0.204,0.407 -0.151,0.319 -0.110,0.240 C -0.068,0.160 0.010,0.007 0.000,0.000 Z" fill="#050505" filter="url(#bl9)"/><path d="M 0.000,0.000 C -0.010,0.007 0.068,0.160 0.110,0.240 C 0.151,0.319 0.204,0.407 0.249,0.478 C 0.295,0.548 0.340,0.616 0.383,0.663 C 0.426,0.709 0.471,0.737 0.505,0.757 C 0.539,0.777 0.566,0.782 0.586,0.783 C 0.606,0.784 0.622,0.772 0.626,0.761 C 0.631,0.750 0.626,0.730 0.614,0.717 C 0.602,0.704 0.581,0.703 0.555,0.683 C 0.529,0.663 0.494,0.641 0.457,0.597 C 0.420,0.554 0.379,0.488 0.331,0.422 C 0.283,0.356 0.225,0.271 0.170,0.200 C 0.115,0.130 0.010,-0.007 0.000,0.000 Z" fill="#050505" filter="url(#bl9)"/></g></g></g>
<g transform="translate(842.25 782.50) scale(161.650 145.000)"><g clip-path="url(#uc)"><g filter="url(#cmap)"><rect x="-1.3" y="-1.3" width="2.6" height="2.6" fill="#545454"/><path d="M -1.3,0.05 C -0.95,-0.1 -0.7,-0.22 -0.5,-0.22 C -0.3,-0.2 -0.12,-0.06 0,0.08 C 0.12,-0.06 0.3,-0.2 0.5,-0.22 C 0.7,-0.22 0.95,-0.1 1.3,0.05 L 1.3,1.3 L -1.3,1.3 Z" fill="#262626" filter="url(#bl2)"/><ellipse cx="0" cy="0.72" rx="0.32" ry="0.5" fill="#1c1c1c" filter="url(#bl10)"/><ellipse cx="-0.92" cy="0.72" rx="0.3" ry="0.2" fill="#1a1a1a" transform="rotate(-30 -0.92 0.72)" filter="url(#bl14)"/><ellipse cx="0.92" cy="0.72" rx="0.3" ry="0.2" fill="#1a1a1a" transform="rotate(30 0.92 0.72)" filter="url(#bl14)"/><ellipse cx="0" cy="1.02" rx="0.7" ry="0.12" fill="#303030" filter="url(#bl2)"/><ellipse cx="-0.6" cy="0.34" rx="0.42" ry="0.48" fill="#2b2b2b" filter="url(#bl3)"/><ellipse cx="0.6" cy="0.34" rx="0.42" ry="0.48" fill="#2b2b2b" filter="url(#bl3)"/><ellipse cx="-0.6" cy="0.34" rx="0.336" ry="0.384" fill="#333333" filter="url(#bl3)"/><ellipse cx="0.6" cy="0.34" rx="0.336" ry="0.384" fill="#333333" filter="url(#bl3)"/><ellipse cx="-0.6" cy="0.34" rx="0.252" ry="0.288" fill="#3b3b3b" filter="url(#bl3)"/><ellipse cx="0.6" cy="0.34" rx="0.252" ry="0.288" fill="#3b3b3b" filter="url(#bl3)"/><ellipse cx="-0.6" cy="0.34" rx="0.168" ry="0.192" fill="#424242" filter="url(#bl3)"/><ellipse cx="0.6" cy="0.34" rx="0.168" ry="0.192" fill="#424242" filter="url(#bl3)"/><ellipse cx="-0.6" cy="0.34" rx="0.0924" ry="0.1056" fill="#4c4c4c" filter="url(#bl3)"/><ellipse cx="0.6" cy="0.34" rx="0.0924" ry="0.1056" fill="#4c4c4c" filter="url(#bl3)"/><path d="M -1.15,-0.02 C -0.95,-0.18 -0.72,-0.3 -0.5,-0.3 C -0.3,-0.29 -0.12,-0.14 0,0.02 C 0.12,-0.14 0.3,-0.29 0.5,-0.3 C 0.72,-0.3 0.95,-0.18 1.15,-0.02" fill="none" stroke="#333333" stroke-width="0.36" stroke-linecap="round" stroke-linejoin="round" filter="url(#bl3)"/><path d="M -1.15,-0.02 C -0.95,-0.18 -0.72,-0.3 -0.5,-0.3 C -0.3,-0.29 -0.12,-0.14 0,0.02 C 0.12,-0.14 0.3,-0.29 0.5,-0.3 C 0.72,-0.3 0.95,-0.18 1.15,-0.02" fill="none" stroke="#1a1a1a" stroke-width="0.26" stroke-linecap="round" stroke-linejoin="round" filter="url(#bl4)"/><path d="M -1.15,-0.02 C -0.95,-0.18 -0.72,-0.3 -0.5,-0.3 C -0.3,-0.29 -0.12,-0.14 0,0.02 C 0.12,-0.14 0.3,-0.29 0.5,-0.3 C 0.72,-0.3 0.95,-0.18 1.15,-0.02" fill="none" stroke="#030303" stroke-width="0.14" stroke-linecap="round" stroke-linejoin="round" filter="url(#bl8)"/><path d="M -0.25,0.3 L 0,0.02 L 0.25,0.3" fill="none" stroke="#080808" stroke-width="0.1" stroke-linecap="round" stroke-linejoin="round" filter="url(#bl3)"/><ellipse cx="0" cy="-1.02" rx="0.44" ry="0.4" fill="#8c8c8c" filter="url(#bl13)"/><ellipse cx="0" cy="-1.04" rx="0.28" ry="0.24" fill="#b5b5b5" filter="url(#bl2)"/><ellipse cx="0" cy="0.7" rx="0.05" ry="0.1" fill="#171717" filter="url(#bl15)"/></g></g></g>
<g transform="translate(1169.90 782.60) scale(159.600 143.000)"><g clip-path="url(#uc)"><g filter="url(#cmap)"><rect x="-1.3" y="-1.3" width="2.6" height="2.6" fill="#212121"/><ellipse cx="0" cy="-0.94" rx="0.46" ry="0.58" fill="#2b2b2b" filter="url(#bl3)"/><ellipse cx="0" cy="-0.94" rx="0.3956" ry="0.4988" fill="#363636" filter="url(#bl3)"/><ellipse cx="0" cy="-0.94" rx="0.3312" ry="0.4176" fill="#404040" filter="url(#bl3)"/><ellipse cx="0" cy="-0.94" rx="0.2668" ry="0.3364" fill="#4a4a4a" filter="url(#bl3)"/><ellipse cx="0" cy="-0.94" rx="0.1932" ry="0.2436" fill="#545454" filter="url(#bl3)"/><g transform="translate(-0.6 0.22) scale(1.12) translate(0.6 -0.22)"><path d="M -0.920,-0.100 C -0.885,-0.165 -0.817,-0.230 -0.750,-0.240 C -0.683,-0.250 -0.572,-0.213 -0.520,-0.160 C -0.468,-0.107 -0.473,0.000 -0.440,0.080 C -0.407,0.160 -0.350,0.243 -0.320,0.320 C -0.290,0.397 -0.243,0.480 -0.260,0.540 C -0.277,0.600 -0.357,0.673 -0.420,0.680 C -0.483,0.687 -0.567,0.630 -0.640,0.580 C -0.713,0.530 -0.807,0.452 -0.860,0.380 C -0.913,0.308 -0.950,0.230 -0.960,0.150 C -0.970,0.070 -0.955,-0.035 -0.920,-0.100 Z" fill="#2a2a2a" filter="url(#bl16)"/></g><g transform="translate(0.6 0.22) scale(1.12) translate(-0.6 -0.22)"><path d="M 0.920,-0.100 C 0.885,-0.165 0.817,-0.230 0.750,-0.240 C 0.683,-0.250 0.572,-0.213 0.520,-0.160 C 0.468,-0.107 0.473,0.000 0.440,0.080 C 0.407,0.160 0.350,0.243 0.320,0.320 C 0.290,0.397 0.243,0.480 0.260,0.540 C 0.277,0.600 0.357,0.673 0.420,0.680 C 0.483,0.687 0.567,0.630 0.640,0.580 C 0.713,0.530 0.807,0.452 0.860,0.380 C 0.913,0.308 0.950,0.230 0.960,0.150 C 0.970,0.070 0.955,-0.035 0.920,-0.100 Z" fill="#2a2a2a" filter="url(#bl16)"/></g><g transform="translate(-0.6 0.22) scale(0.95) translate(0.6 -0.22)"><path d="M -0.920,-0.100 C -0.885,-0.165 -0.817,-0.230 -0.750,-0.240 C -0.683,-0.250 -0.572,-0.213 -0.520,-0.160 C -0.468,-0.107 -0.473,0.000 -0.440,0.080 C -0.407,0.160 -0.350,0.243 -0.320,0.320 C -0.290,0.397 -0.243,0.480 -0.260,0.540 C -0.277,0.600 -0.357,0.673 -0.420,0.680 C -0.483,0.687 -0.567,0.630 -0.640,0.580 C -0.713,0.530 -0.807,0.452 -0.860,0.380 C -0.913,0.308 -0.950,0.230 -0.960,0.150 C -0.970,0.070 -0.955,-0.035 -0.920,-0.100 Z" fill="#303030" filter="url(#bl17)"/></g><g transform="translate(0.6 0.22) scale(0.95) translate(-0.6 -0.22)"><path d="M 0.920,-0.100 C 0.885,-0.165 0.817,-0.230 0.750,-0.240 C 0.683,-0.250 0.572,-0.213 0.520,-0.160 C 0.468,-0.107 0.473,0.000 0.440,0.080 C 0.407,0.160 0.350,0.243 0.320,0.320 C 0.290,0.397 0.243,0.480 0.260,0.540 C 0.277,0.600 0.357,0.673 0.420,0.680 C 0.483,0.687 0.567,0.630 0.640,0.580 C 0.713,0.530 0.807,0.452 0.860,0.380 C 0.913,0.308 0.950,0.230 0.960,0.150 C 0.970,0.070 0.955,-0.035 0.920,-0.100 Z" fill="#303030" filter="url(#bl17)"/></g><g transform="translate(-0.6 0.22) scale(0.75) translate(0.6 -0.22)"><path d="M -0.920,-0.100 C -0.885,-0.165 -0.817,-0.230 -0.750,-0.240 C -0.683,-0.250 -0.572,-0.213 -0.520,-0.160 C -0.468,-0.107 -0.473,0.000 -0.440,0.080 C -0.407,0.160 -0.350,0.243 -0.320,0.320 C -0.290,0.397 -0.243,0.480 -0.260,0.540 C -0.277,0.600 -0.357,0.673 -0.420,0.680 C -0.483,0.687 -0.567,0.630 -0.640,0.580 C -0.713,0.530 -0.807,0.452 -0.860,0.380 C -0.913,0.308 -0.950,0.230 -0.960,0.150 C -0.970,0.070 -0.955,-0.035 -0.920,-0.100 Z" fill="#373737" filter="url(#bl18)"/></g><g transform="translate(0.6 0.22) scale(0.75) translate(-0.6 -0.22)"><path d="M 0.920,-0.100 C 0.885,-0.165 0.817,-0.230 0.750,-0.240 C 0.683,-0.250 0.572,-0.213 0.520,-0.160 C 0.468,-0.107 0.473,0.000 0.440,0.080 C 0.407,0.160 0.350,0.243 0.320,0.320 C 0.290,0.397 0.243,0.480 0.260,0.540 C 0.277,0.600 0.357,0.673 0.420,0.680 C 0.483,0.687 0.567,0.630 0.640,0.580 C 0.713,0.530 0.807,0.452 0.860,0.380 C 0.913,0.308 0.950,0.230 0.960,0.150 C 0.970,0.070 0.955,-0.035 0.920,-0.100 Z" fill="#373737" filter="url(#bl18)"/></g><g transform="translate(-0.6 0.22) scale(0.5) translate(0.6 -0.22)"><path d="M -0.920,-0.100 C -0.885,-0.165 -0.817,-0.230 -0.750,-0.240 C -0.683,-0.250 -0.572,-0.213 -0.520,-0.160 C -0.468,-0.107 -0.473,0.000 -0.440,0.080 C -0.407,0.160 -0.350,0.243 -0.320,0.320 C -0.290,0.397 -0.243,0.480 -0.260,0.540 C -0.277,0.600 -0.357,0.673 -0.420,0.680 C -0.483,0.687 -0.567,0.630 -0.640,0.580 C -0.713,0.530 -0.807,0.452 -0.860,0.380 C -0.913,0.308 -0.950,0.230 -0.960,0.150 C -0.970,0.070 -0.955,-0.035 -0.920,-0.100 Z" fill="#3d3d3d" filter="url(#bl14)"/></g><g transform="translate(0.6 0.22) scale(0.5) translate(-0.6 -0.22)"><path d="M 0.920,-0.100 C 0.885,-0.165 0.817,-0.230 0.750,-0.240 C 0.683,-0.250 0.572,-0.213 0.520,-0.160 C 0.468,-0.107 0.473,0.000 0.440,0.080 C 0.407,0.160 0.350,0.243 0.320,0.320 C 0.290,0.397 0.243,0.480 0.260,0.540 C 0.277,0.600 0.357,0.673 0.420,0.680 C 0.483,0.687 0.567,0.630 0.640,0.580 C 0.713,0.530 0.807,0.452 0.860,0.380 C 0.913,0.308 0.950,0.230 0.960,0.150 C 0.970,0.070 0.955,-0.035 0.920,-0.100 Z" fill="#3d3d3d" filter="url(#bl14)"/></g><ellipse cx="-0.94" cy="-0.42" rx="0.22" ry="0.42" fill="#000000" transform="rotate(30 -0.94 -0.42)" filter="url(#bl5)"/><ellipse cx="0.94" cy="-0.42" rx="0.22" ry="0.42" fill="#000000" transform="rotate(-30 0.94 -0.42)" filter="url(#bl5)"/><path d="M 0,-0.32 L 0,0 M -0.34,0 L 0.34,0" fill="none" stroke="#171717" stroke-width="0.22" stroke-linecap="round" stroke-linejoin="round" filter="url(#bl7)"/><path d="M -0.1,0 L 0.1,0 L 0.3,1.2 L -0.3,1.2 Z" fill="#141414" filter="url(#bl7)"/><path d="M 0,-0.28 L 0,0 M -0.3,0 L 0.3,0" fill="none" stroke="#030303" stroke-width="0.08" stroke-linecap="round" stroke-linejoin="round" filter="url(#bl8)"/><path d="M -0.04,0 L 0.04,0 L 0.18,1.2 L -0.18,1.2 Z" fill="#030303" filter="url(#bl19)"/></g></g></g>
<g transform="translate(184.45 1082.20) scale(161.550 144.600)"><g clip-path="url(#uc)"><g filter="url(#cmap)"><rect x="-1.3" y="-1.3" width="2.6" height="2.6" fill="url(#d1r)"/><ellipse cx="-0.95" cy="-0.5" rx="0.16" ry="0.3" fill="#3d3d3d" filter="url(#bl14)"/><ellipse cx="0.95" cy="-0.5" rx="0.16" ry="0.3" fill="#3d3d3d" filter="url(#bl14)"/><ellipse cx="0" cy="1" rx="0.2" ry="0.16" fill="#3c3c3c" filter="url(#bl14)"/><path d="M 0,0.12 L -0.14,-0.14 L 0.14,-0.14 Z" fill="#393939" filter="url(#bl3)"/><ellipse cx="0" cy="-0.74" rx="0.52" ry="0.56" fill="#292929" filter="url(#bl9)"/><ellipse cx="-0.63" cy="0.28" rx="0.47" ry="0.48" fill="#292929" filter="url(#bl9)"/><ellipse cx="0.63" cy="0.28" rx="0.47" ry="0.48" fill="#292929" filter="url(#bl9)"/><ellipse cx="0" cy="-0.74" rx="0.442" ry="0.476" fill="#212121" filter="url(#bl9)"/><ellipse cx="-0.63" cy="0.28" rx="0.3995" ry="0.408" fill="#212121" filter="url(#bl9)"/><ellipse cx="0.63" cy="0.28" rx="0.3995" ry="0.408" fill="#212121" filter="url(#bl9)"/><ellipse cx="0" cy="-0.74" rx="0.364" ry="0.392" fill="#1b1b1b" filter="url(#bl9)"/><ellipse cx="-0.63" cy="0.28" rx="0.329" ry="0.336" fill="#1b1b1b" filter="url(#bl9)"/><ellipse cx="0.63" cy="0.28" rx="0.329" ry="0.336" fill="#1b1b1b" filter="url(#bl9)"/><ellipse cx="0" cy="-0.74" rx="0.2704" ry="0.2912" fill="#161616" filter="url(#bl9)"/><ellipse cx="-0.63" cy="0.28" rx="0.2444" ry="0.2496" fill="#161616" filter="url(#bl9)"/><ellipse cx="0.63" cy="0.28" rx="0.2444" ry="0.2496" fill="#161616" filter="url(#bl9)"/><ellipse cx="0" cy="-0.74" rx="0.1664" ry="0.1792" fill="#121212" filter="url(#bl9)"/><ellipse cx="0" cy="-0.74" rx="0.0936" ry="0.1008" fill="#0f0f0f" filter="url(#bl9)"/></g></g></g>
<g transform="translate(514.25 1084.35) scale(160.550 144.950)"><g clip-path="url(#uc)"><g filter="url(#cmap)"><rect x="-1.3" y="-1.3" width="2.6" height="2.6" fill="#b0b0b0"/><ellipse cx="-0.33" cy="0.33" rx="0.22" ry="0.16" fill="#a4a4a4" filter="url(#bl2)"/><ellipse cx="0.33" cy="0.33" rx="0.22" ry="0.16" fill="#a4a4a4" filter="url(#bl2)"/><path d="M 0,0 m -1,0 a 1,1 0 1,0 2,0 a 1,1 0 1,0 -2,0" fill="none" stroke="#c9c9c9" stroke-width="0.22" stroke-linecap="round" stroke-linejoin="round" filter="url(#bl14)"/><path d="M -1.020,0.050 C -1.003,-0.028 -0.982,-0.278 -0.920,-0.420 C -0.858,-0.562 -0.762,-0.703 -0.650,-0.800 C -0.538,-0.897 -0.400,-0.967 -0.250,-1.000 C -0.100,-1.033 0.100,-1.033 0.250,-1.000 C 0.400,-0.967 0.538,-0.897 0.650,-0.800 C 0.762,-0.703 0.858,-0.562 0.920,-0.420 C 0.982,-0.278 1.003,-0.028 1.020,0.050 " fill="none" stroke="#d6d6d6" stroke-width="0.5" stroke-linecap="round" stroke-linejoin="round" filter="url(#bl10)"/><path d="M -1.020,-0.050 C -1.003,-0.117 -0.982,-0.322 -0.920,-0.450 C -0.858,-0.578 -0.762,-0.725 -0.650,-0.820 C -0.538,-0.915 -0.400,-0.987 -0.250,-1.020 C -0.100,-1.053 0.100,-1.053 0.250,-1.020 C 0.400,-0.987 0.538,-0.915 0.650,-0.820 C 0.762,-0.725 0.858,-0.578 0.920,-0.450 C 0.982,-0.322 1.003,-0.117 1.020,-0.050 " fill="none" stroke="#f4f4f4" stroke-width="0.26" stroke-linecap="round" stroke-linejoin="round" filter="url(#bl2)"/><ellipse cx="-0.75" cy="-0.68" rx="0.2" ry="0.12" fill="#f9f9f9" transform="rotate(-40 -0.75 -0.68)" filter="url(#bl7)"/><ellipse cx="0.75" cy="-0.68" rx="0.2" ry="0.12" fill="#f9f9f9" transform="rotate(40 0.75 -0.68)" filter="url(#bl7)"/></g></g></g>
<g transform="translate(842.55 1082.50) scale(161.350 144.500)"><g clip-path="url(#uc)"><g filter="url(#cmap)"><rect x="-1.3" y="-1.3" width="2.6" height="2.6" fill="#b0b0b0"/><ellipse cx="0" cy="-0.22" rx="0.575" ry="0.736" fill="#a1a1a1" filter="url(#bl3)"/><ellipse cx="-0.3" cy="0.3" rx="0.897" ry="0.92" fill="#a1a1a1" filter="url(#bl3)"/><ellipse cx="0.3" cy="0.3" rx="0.897" ry="0.92" fill="#a1a1a1" filter="url(#bl3)"/><ellipse cx="0" cy="-0.22" rx="0.525" ry="0.672" fill="#949494" filter="url(#bl3)"/><ellipse cx="-0.3" cy="0.3" rx="0.819" ry="0.84" fill="#949494" filter="url(#bl3)"/><ellipse cx="0.3" cy="0.3" rx="0.819" ry="0.84" fill="#949494" filter="url(#bl3)"/><ellipse cx="0" cy="-0.22" rx="0.48" ry="0.6144" fill="#8a8a8a" filter="url(#bl3)"/><ellipse cx="-0.3" cy="0.3" rx="0.7488" ry="0.768" fill="#8a8a8a" filter="url(#bl3)"/><ellipse cx="0.3" cy="0.3" rx="0.7488" ry="0.768" fill="#8a8a8a" filter="url(#bl3)"/><ellipse cx="0" cy="-0.22" rx="0.43" ry="0.5504" fill="#808080" filter="url(#bl3)"/><ellipse cx="-0.3" cy="0.3" rx="0.6708" ry="0.688" fill="#808080" filter="url(#bl3)"/><ellipse cx="0.3" cy="0.3" rx="0.6708" ry="0.688" fill="#808080" filter="url(#bl3)"/><ellipse cx="0" cy="-0.22" rx="0.375" ry="0.48" fill="#777777" filter="url(#bl3)"/><ellipse cx="-0.3" cy="0.3" rx="0.585" ry="0.6" fill="#777777" filter="url(#bl3)"/><ellipse cx="0.3" cy="0.3" rx="0.585" ry="0.6" fill="#777777" filter="url(#bl3)"/><ellipse cx="0" cy="-0.22" rx="0.315" ry="0.4032" fill="#707070" filter="url(#bl3)"/><ellipse cx="-0.3" cy="0.3" rx="0.4914" ry="0.504" fill="#707070" filter="url(#bl3)"/><ellipse cx="0.3" cy="0.3" rx="0.4914" ry="0.504" fill="#707070" filter="url(#bl3)"/><ellipse cx="0" cy="-0.22" rx="0.255" ry="0.3264" fill="#6a6a6a" filter="url(#bl3)"/><ellipse cx="-0.3" cy="0.3" rx="0.3978" ry="0.408" fill="#6a6a6a" filter="url(#bl3)"/><ellipse cx="0.3" cy="0.3" rx="0.3978" ry="0.408" fill="#6a6a6a" filter="url(#bl3)"/><ellipse cx="-0.3" cy="0.3" rx="0.3042" ry="0.312" fill="#636363" filter="url(#bl3)"/><ellipse cx="0.3" cy="0.3" rx="0.3042" ry="0.312" fill="#636363" filter="url(#bl3)"/><ellipse cx="-0.3" cy="0.3" rx="0.2106" ry="0.216" fill="#5d5d5d" filter="url(#bl3)"/><ellipse cx="0.3" cy="0.3" rx="0.2106" ry="0.216" fill="#5d5d5d" filter="url(#bl3)"/><ellipse cx="0" cy="1.12" rx="0.75" ry="0.2" fill="#858585" filter="url(#bl14)"/></g></g></g>
<g transform="translate(1168.00 1084.35) scale(159.800 144.050)"><g clip-path="url(#uc)"><g filter="url(#cmap)"><rect x="-1.3" y="-1.3" width="2.6" height="2.6" fill="#4c4c4c"/><ellipse cx="0" cy="-0.25" rx="0.525" ry="0.7" fill="#424242" filter="url(#bl4)"/><ellipse cx="-0.33" cy="0.3" rx="0.925" ry="0.9" fill="#424242" filter="url(#bl4)"/><ellipse cx="0.33" cy="0.3" rx="0.925" ry="0.9" fill="#424242" filter="url(#bl4)"/><ellipse cx="0" cy="-0.25" rx="0.4704" ry="0.6272" fill="#363636" filter="url(#bl4)"/><ellipse cx="-0.33" cy="0.3" rx="0.8288" ry="0.8064" fill="#363636" filter="url(#bl4)"/><ellipse cx="0.33" cy="0.3" rx="0.8288" ry="0.8064" fill="#363636" filter="url(#bl4)"/><ellipse cx="0" cy="-0.25" rx="0.42" ry="0.56" fill="#2b2b2b" filter="url(#bl4)"/><ellipse cx="-0.33" cy="0.3" rx="0.74" ry="0.72" fill="#2b2b2b" filter="url(#bl4)"/><ellipse cx="0.33" cy="0.3" rx="0.74" ry="0.72" fill="#2b2b2b" filter="url(#bl4)"/><ellipse cx="0" cy="-0.25" rx="0.3696" ry="0.4928" fill="#212121" filter="url(#bl4)"/><ellipse cx="-0.33" cy="0.3" rx="0.6512" ry="0.6336" fill="#212121" filter="url(#bl4)"/><ellipse cx="0.33" cy="0.3" rx="0.6512" ry="0.6336" fill="#212121" filter="url(#bl4)"/><ellipse cx="0" cy="-0.25" rx="0.3192" ry="0.4256" fill="#1a1a1a" filter="url(#bl4)"/><ellipse cx="-0.33" cy="0.3" rx="0.5624" ry="0.5472" fill="#1a1a1a" filter="url(#bl4)"/><ellipse cx="0.33" cy="0.3" rx="0.5624" ry="0.5472" fill="#1a1a1a" filter="url(#bl4)"/><ellipse cx="0" cy="-0.25" rx="0.2688" ry="0.3584" fill="#131313" filter="url(#bl4)"/><ellipse cx="-0.33" cy="0.3" rx="0.4736" ry="0.4608" fill="#131313" filter="url(#bl4)"/><ellipse cx="0.33" cy="0.3" rx="0.4736" ry="0.4608" fill="#131313" filter="url(#bl4)"/><ellipse cx="-0.33" cy="0.3" rx="0.3848" ry="0.3744" fill="#0d0d0d" filter="url(#bl4)"/><ellipse cx="0.33" cy="0.3" rx="0.3848" ry="0.3744" fill="#0d0d0d" filter="url(#bl4)"/><ellipse cx="-0.33" cy="0.3" rx="0.296" ry="0.288" fill="#080808" filter="url(#bl4)"/><ellipse cx="0.33" cy="0.3" rx="0.296" ry="0.288" fill="#080808" filter="url(#bl4)"/><ellipse cx="-0.33" cy="0.3" rx="0.185" ry="0.18" fill="#050505" filter="url(#bl4)"/><ellipse cx="0.33" cy="0.3" rx="0.185" ry="0.18" fill="#050505" filter="url(#bl4)"/></g></g></g>
<text x="45.9" y="1293.3" font-size="55">No coatings</text>
<text x="462.7" y="1292.8" font-size="55">LPC</text>
<text x="669.6" y="1292.8" font-size="55">Optimization 1</text>
<text x="1015.6" y="1292.8" font-size="55">Optimization 2</text>
<text x="1294.7" y="66.8" font-size="55">Trans</text>
<text x="1389.0" y="111.7" font-size="55">80</text>
<text x="1387.8" y="192.1" font-size="55">43</text>
<text x="1388.3" y="270.1" font-size="55">6</text>
<text x="1312.5" y="318.2" font-size="55">(%)</text>
<text x="1313.1" y="380.5" font-size="55">Dia</text>
<text x="1388.3" y="415.2" font-size="55">94</text>
<text x="1388.1" y="496.0" font-size="55">47</text>
<text x="1389.1" y="573.5" font-size="55">0</text>
<text x="1312.6" y="623.0" font-size="55">(%)</text>
<text x="1314.4" y="683.9" font-size="55">Ret</text>
<text x="1388.6" y="714.5" font-size="55">90</text>
<text x="1388.1" y="795.5" font-size="55">47</text>
<text x="1388.5" y="874.2" font-size="55">0</text>
<text x="1323.9" y="919.7" font-size="55">(°)</text>
<text x="1288.8" y="973.2" font-size="55">Phase</text>
<text x="1389.5" y="1015.8" font-size="55">82</text>
<text x="1388.5" y="1093.8" font-size="55">30</text>
<text x="1387.9" y="1172.3" font-size="55">−22</text>
<text x="1324.5" y="1207.9" font-size="55">(°)</text>
<text y="46.0" font-size="55"><tspan x="5.7">(</tspan><tspan x="24.0">a</tspan><tspan x="48.9" y="56.9" font-size="33">1</tspan><tspan x="65.7" y="46.0">)</tspan></text>
<text y="46.0" font-size="55"><tspan x="338.6">(</tspan><tspan x="356.9">a</tspan><tspan x="381.8" y="56.9" font-size="33">2</tspan><tspan x="398.6" y="46.0">)</tspan></text>
<text y="46.0" font-size="55"><tspan x="667.5">(</tspan><tspan x="685.8">a</tspan><tspan x="710.7" y="56.9" font-size="33">3</tspan><tspan x="727.5" y="46.0">)</tspan></text>
<text y="46.0" font-size="55"><tspan x="1003.5">(</tspan><tspan x="1021.8">a</tspan><tspan x="1046.7" y="56.9" font-size="33">4</tspan><tspan x="1063.5" y="46.0">)</tspan></text>
<text y="346.8" font-size="55"><tspan x="2.6">(</tspan><tspan x="20.9">b</tspan><tspan x="48.9" y="357.7" font-size="33">1</tspan><tspan x="65.7" y="346.8">)</tspan></text>
<text y="346.8" font-size="55"><tspan x="336.3">(</tspan><tspan x="354.6">b</tspan><tspan x="382.6" y="357.7" font-size="33">2</tspan><tspan x="399.4" y="346.8">)</tspan></text>
<text y="346.8" font-size="55"><tspan x="665.6">(</tspan><tspan x="683.9">b</tspan><tspan x="711.9" y="357.7" font-size="33">3</tspan><tspan x="728.7" y="346.8">)</tspan></text>
<text y="346.8" font-size="55"><tspan x="1001.6">(</tspan><tspan x="1019.9">b</tspan><tspan x="1047.9" y="357.7" font-size="33">4</tspan><tspan x="1064.7" y="346.8">)</tspan></text>
<text y="650.1" font-size="55"><tspan x="5.6">(</tspan><tspan x="23.9">c</tspan><tspan x="48.8" y="661.0" font-size="33">1</tspan><tspan x="65.6" y="650.1">)</tspan></text>
<text y="650.1" font-size="55"><tspan x="339.0">(</tspan><tspan x="357.3">c</tspan><tspan x="382.2" y="661.0" font-size="33">2</tspan><tspan x="399.0" y="650.1">)</tspan></text>
<text y="650.1" font-size="55"><tspan x="668.2">(</tspan><tspan x="686.5">c</tspan><tspan x="711.4" y="661.0" font-size="33">3</tspan><tspan x="728.2" y="650.1">)</tspan></text>
<text y="650.1" font-size="55"><tspan x="1003.9">(</tspan><tspan x="1022.2">c</tspan><tspan x="1047.1" y="661.0" font-size="33">4</tspan><tspan x="1063.9" y="650.1">)</tspan></text>
<text y="939.9" font-size="55"><tspan x="2.6">(</tspan><tspan x="20.9">d</tspan><tspan x="48.9" y="950.8" font-size="33">1</tspan><tspan x="65.7" y="939.9">)</tspan></text>
<text y="939.9" font-size="55"><tspan x="336.3">(</tspan><tspan x="354.6">d</tspan><tspan x="382.6" y="950.8" font-size="33">2</tspan><tspan x="399.4" y="939.9">)</tspan></text>
<text y="939.9" font-size="55"><tspan x="665.6">(</tspan><tspan x="683.9">d</tspan><tspan x="711.9" y="950.8" font-size="33">3</tspan><tspan x="728.7" y="939.9">)</tspan></text>
<text y="939.9" font-size="55"><tspan x="1001.6">(</tspan><tspan x="1019.9">d</tspan><tspan x="1047.9" y="950.8" font-size="33">4</tspan><tspan x="1064.7" y="939.9">)</tspan></text>
<rect x="1338.4" y="98.4" width="35.9" height="157.4" fill="url(#cbar)" stroke="#5a5050" stroke-width="2.2"/>
<rect x="1338.4" y="402.1" width="36.1" height="157.8" fill="url(#cbar)" stroke="#5a5050" stroke-width="2.2"/>
<rect x="1337.7" y="700.8" width="35.2" height="157.9" fill="url(#cbar)" stroke="#5a5050" stroke-width="2.2"/>
<rect x="1335.1" y="1004.4" width="34.1" height="154.3" fill="url(#cbar)" stroke="#5a5050" stroke-width="2.2"/>
</svg></body></html>
